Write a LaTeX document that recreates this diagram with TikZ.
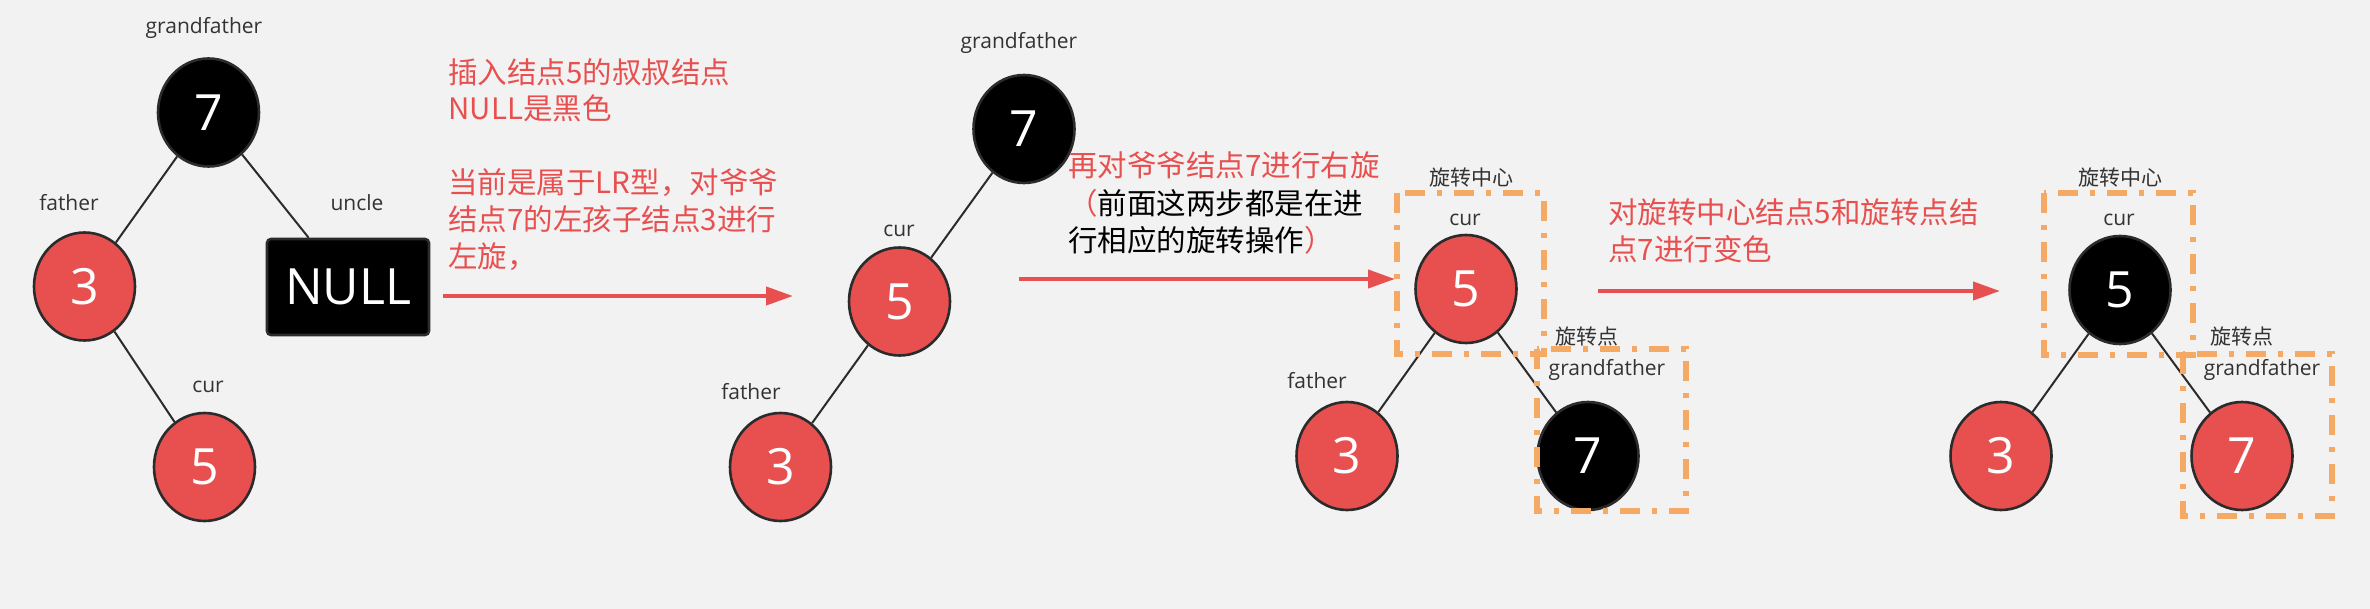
\documentclass[tikz,border=0pt]{standalone}
\usepackage{fontspec}
\setmainfont{Noto Sans CJK SC}
\newfontfamily\latinfont{Open Sans}
\usetikzlibrary{arrows.meta,shapes.geometric}
\definecolor{bgc}{HTML}{F2F2F2}
\definecolor{rbred}{HTML}{E85050}
\definecolor{txtred}{HTML}{E85050}
\definecolor{orng}{HTML}{F4AA64}
\definecolor{edgec}{HTML}{2B2B2B}
\definecolor{lblc}{HTML}{333333}
\begin{document}
\begin{tikzpicture}[x=0.5pt,y=-0.5pt,
  rbnode/.style={ellipse, draw=edgec, line width=1.3pt, minimum width=50.5pt, minimum height=54pt, inner sep=0pt, text=white, font=\latinfont\fontsize{25pt}{30pt}\selectfont},
  rednode/.style={rbnode, fill=rbred},
  blacknode/.style={rbnode, fill=black},
  nullbox/.style={rectangle, rounded corners=2pt, draw=edgec, line width=1.3pt, fill=black, minimum width=81pt, minimum height=48pt, inner sep=0pt, text=white, font=\latinfont\fontsize{25pt}{30pt}\selectfont},
  lbl/.style={text=lblc, font=\latinfont\fontsize{10.5pt}{12pt}\selectfont, inner sep=0pt},
  cnlbl/.style={text=lblc, font=\fontsize{10.5pt}{12pt}\selectfont, inner sep=0pt},
  tree/.style={draw=edgec, line width=1pt},
  stepper/.style={draw=txtred, line width=2pt, -{Triangle[length=13.5pt,width=9pt]}},
  rotbox/.style={draw=orng, line width=2.6pt, dash pattern=on 10pt off 6pt on 2.5pt off 6pt},
  note/.style={anchor=base west, align=left, inner sep=0pt, font=\fontsize{14.75pt}{18.5pt}\selectfont, text=txtred},
]
\fill[bgc] (0,0) rectangle (2370,609);
\useasboundingbox (0,0) rectangle (2370,609);

% ---------- tree 1 ----------
\node[blacknode] (t1g) at (208.5,112.5) {7};
\node[rednode] (t1f) at (84.5,286.5) {3};
\node[rednode] (t1c) at (204.5,467) {5};
\node[nullbox] (t1u) at (348,287) {NULL};
\node[lbl] (t1gl) at (204,28) {grandfather};
\node[lbl] (t1fl) at (69,203) {father};
\node[lbl] (t1ul) at (357,203) {uncle};
\node[lbl] (t1cl) at (208,387) {cur};
\draw[tree] (t1g) -- (t1f);
\draw[tree] (t1g) -- (t1u);
\draw[tree] (t1f) -- (t1c);

\node[note] (n1) at (448,268) {插入结点5的叔叔结点\\NULL是黑色\\[18.5pt]当前是属于LR型，对爷爷\\结点7的左孩子结点3进行\\左旋，};
\coordinate (a1s) at (443,296);
\coordinate (a1e) at (793,296);
\draw[stepper] (a1s) -- (a1e);

% ---------- tree 2 ----------
\node[blacknode] (t2g) at (1024,129) {7};
\node[rednode] (t2c) at (899.5,301.5) {5};
\node[rednode] (t2f) at (780.5,467) {3};
\node[lbl] (t2gl) at (1019,43) {grandfather};
\node[lbl] (t2cl) at (899,231) {cur};
\node[lbl] (t2fl) at (751,392) {father};
\draw[tree] (t2g) -- (t2c);
\draw[tree] (t2c) -- (t2f);

\node[note] (n2) at (1068,251) {再对爷爷结点7进行右旋\\（\textcolor{black}{前面这两步都是在进}\\\textcolor{black}{行相应的旋转操作}）};
\coordinate (a2s) at (1019,279);
\coordinate (a2e) at (1395,279);
\draw[stepper] (a2s) -- (a2e);

% ---------- tree 3 ----------
\node[rednode] (t3c) at (1466,289) {5};
\node[rednode] (t3f) at (1347,456) {3};
\node[blacknode] (t3g) at (1588,456) {7};
\node[cnlbl] (t3rc) at (1471,178) {旋转中心};
\node[lbl] (t3cl) at (1465,220) {cur};
\node[cnlbl] (t3rp) at (1587,337) {旋转点};
\node[lbl] (t3gl) at (1607,370) {grandfather};
\node[lbl] (t3fl) at (1317,381) {father};
\draw[tree] (t3c) -- (t3f);
\draw[tree] (t3c) -- (t3g);
\draw[rotbox] (1397,193) rectangle (1544,354);
\draw[rotbox] (1537,349) rectangle (1686,511);

\node[note] (n3) at (1608,261) {对旋转中心结点5和旋转点结\\点7进行变色};
\coordinate (a3s) at (1598,291);
\coordinate (a3e) at (2000,291);
\draw[stepper] (a3s) -- (a3e);

% ---------- tree 4 ----------
\node[blacknode] (t4c) at (2120,290) {5};
\node[rednode] (t4f) at (2001,456) {3};
\node[rednode] (t4g) at (2242,456) {7};
\node[cnlbl] (t4rc) at (2120,178) {旋转中心};
\node[lbl] (t4cl) at (2119,220) {cur};
\node[cnlbl] (t4rp) at (2242,337) {旋转点};
\node[lbl] (t4gl) at (2262,370) {grandfather};
\draw[tree] (t4c) -- (t4f);
\draw[tree] (t4c) -- (t4g);
\draw[rotbox] (2044,193) rectangle (2193,355);
\draw[rotbox] (2183,354) rectangle (2332,516);
\end{tikzpicture}
\end{document}
